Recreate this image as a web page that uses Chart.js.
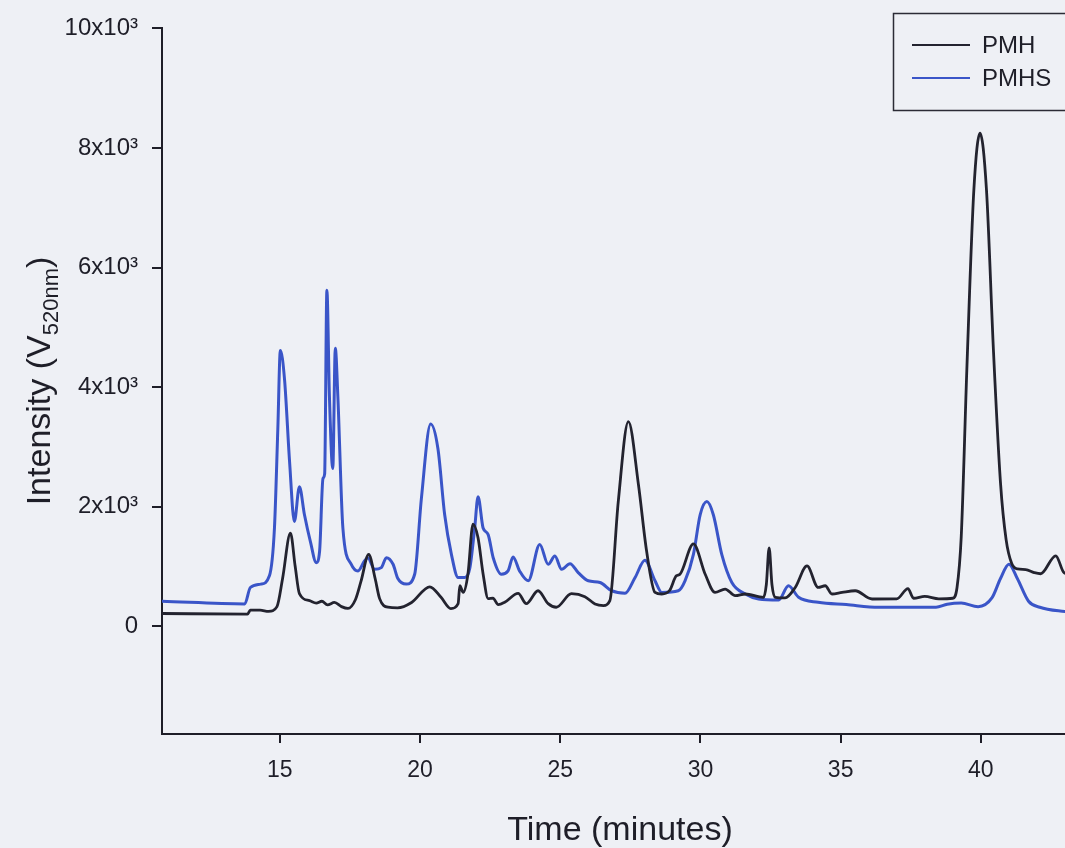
<!DOCTYPE html>
<html>
<head>
<meta charset="utf-8">
<title>PMH / PMHS chromatogram</title>
<script src="https://cdn.jsdelivr.net/npm/chart.js@4.4.1/dist/chart.umd.min.js"></script>
<style>
  html, body { margin: 0; padding: 0; background: #eef0f5; }
  canvas { display: block; }
</style>
</head>
<body>
<canvas id="chroma" width="1065" height="848"></canvas>
<script>
// ===== Data =====
const seriesNames = ["PMH", "PMHS"];
const seriesColors = ["#23232f", "#3a55c8"];

const timeTicks = [15, 20, 25, 30, 35, 40];
const intensityTicks = [0, 2000, 4000, 6000, 8000, 10000];

const pmhTime = [
  10.8, 13.85, 13.95, 14.3, 14.6, 14.9, 15.1, 15.38, 15.55, 15.7,
  16.06, 16.3, 16.5, 16.7, 16.95, 17.2, 17.43, 17.7, 17.9, 18.17,
  18.4, 18.56, 18.86, 19.2, 19.7, 20.35, 20.75, 21.1, 21.36, 21.42,
  21.54, 21.71, 21.89, 22.07, 22.25, 22.43, 22.6, 22.79, 23.02, 23.5,
  23.79, 24.21, 24.57, 24.86, 25.4, 25.88, 26.24, 26.54, 26.77, 27.07,
  27.43, 27.79, 28.08, 28.38, 28.62, 28.9, 29.14, 29.27, 29.75, 30.17,
  30.52, 30.88, 31.24, 31.6, 32.25, 32.35, 32.45, 32.55, 32.67, 33.02,
  33.38, 33.8, 34.2, 34.45, 34.69, 35.05, 35.52, 36.12, 37.0, 37.4,
  37.6, 38.0, 38.5, 39.0, 39.15, 39.3, 39.5, 39.75, 39.97, 40.2,
  40.45, 40.7, 40.9, 41.1, 41.3, 41.6, 41.9, 42.13, 42.67, 42.96, 43.1
];
const pmhSignal = [
  215, 205, 270, 270, 250, 330, 800, 1560, 1000, 546,
  430, 390, 420, 360, 400, 330, 300, 450, 760, 1204,
  800, 464, 320, 310, 400, 662, 486, 298, 380, 680,
  568, 877, 1711, 1480, 877, 463, 470, 364, 403, 552,
  380, 596, 380, 320, 546, 497, 375, 348, 430, 2087,
  3423, 2368, 1259, 568, 541, 600, 845, 872, 1380, 872,
  568, 624, 513, 541, 486, 700, 1313, 700, 486, 475,
  651, 1010, 651, 679, 541, 568, 596, 458, 460, 630,
  470, 500, 460, 470, 650, 1500, 4300, 7300, 8250, 7300,
  4600, 2400, 1450, 1050, 960, 950, 900, 880, 1180, 900, 880
];

const pmhsTime = [
  10.8, 13.75, 13.95, 14.32, 14.63, 14.81, 14.93, 15.02, 15.17, 15.35,
  15.52, 15.7, 15.88, 16.1, 16.3, 16.42, 16.54, 16.6, 16.68, 16.77,
  16.89, 16.98, 17.07, 17.25, 17.55, 17.79, 18.02, 18.14, 18.38, 18.62,
  18.8, 19.04, 19.21, 19.51, 19.81, 20.05, 20.38, 20.64, 20.88, 21.12,
  21.36, 21.6, 21.78, 21.95, 22.07, 22.25, 22.43, 22.61, 22.9, 23.14,
  23.32, 23.55, 23.86, 24.27, 24.57, 24.81, 25.05, 25.35, 25.64, 26.0,
  26.42, 26.83, 27.31, 27.67, 28.02, 28.38, 28.62, 29.21, 29.45, 29.75,
  29.99, 30.23, 30.46, 30.76, 31.12, 31.6, 32.07, 32.79, 33.14, 33.5,
  34.2, 35.2, 36.36, 38.4, 38.8, 39.3, 39.9, 40.4, 40.7, 41.0,
  41.3, 41.7, 42.1, 43.1
];
const pmhsSignal = [
  420, 375, 650, 706, 845, 1645, 3300, 4615, 4128, 2749,
  1755, 2335, 1866, 1400, 1065, 1258, 2472, 2550, 5619, 3853,
  2638, 4653, 3853, 1645, 1038, 927, 1093, 1148, 955, 982,
  1148, 1038, 800, 707, 872, 2141, 3383, 2969, 1866, 1204,
  817, 817, 982, 1645, 2169, 1645, 1535, 1148, 872, 927,
  1159, 927, 762, 1369, 1038, 1176, 955, 1048, 900, 762,
  734, 596, 552, 817, 1104, 762, 568, 596, 762, 1204,
  1866, 2087, 1866, 1204, 734, 541, 458, 442, 679, 486,
  403, 364, 320, 320, 370, 390, 330, 480, 800, 1040,
  800, 420, 320, 240
];

const toPoints = (xs, ys) => xs.map((x, i) => ({ x: x, y: ys[i] }));

const FONT = '"Liberation Sans", Arial, sans-serif';
const INK = "#1e1e28";

// ===== Axis titles and legend box =====
const overlay = {
  id: "overlay",
  afterDraw(chart) {
    const ctx = chart.ctx;

    ctx.save();
    ctx.fillStyle = INK;

    // x title
    ctx.font = "34px " + FONT;
    ctx.textAlign = "center";
    ctx.textBaseline = "alphabetic";
    ctx.fillText("Time (minutes)", 620, 840);

    // y title with subscript
    ctx.save();
    ctx.translate(50, 381);
    ctx.rotate(-Math.PI / 2);
    ctx.textAlign = "left";
    const big = "34px " + FONT;
    const small = "22px " + FONT;
    ctx.font = big;
    const w1 = ctx.measureText("Intensity (V").width;
    const w3 = ctx.measureText(")").width;
    ctx.font = small;
    const w2 = ctx.measureText("520nm").width;
    let x0 = -(w1 + w2 + w3) / 2;
    ctx.font = big;
    ctx.fillText("Intensity (V", x0, 0);
    x0 += w1;
    ctx.font = small;
    ctx.fillText("520nm", x0, 8);
    x0 += w2;
    ctx.font = big;
    ctx.fillText(")", x0, 0);
    ctx.restore();

    // legend
    ctx.strokeStyle = "#2b2b35";
    ctx.lineWidth = 1.5;
    ctx.strokeRect(893.5, 13.5, 220, 97);
    ctx.font = "24px " + FONT;
    ctx.textAlign = "left";
    ctx.textBaseline = "middle";
    chart.data.datasets.forEach((ds, i) => {
      const y = 45 + i * 33;
      ctx.strokeStyle = ds.borderColor;
      ctx.lineWidth = 2.2;
      ctx.beginPath();
      ctx.moveTo(912, y);
      ctx.lineTo(970, y);
      ctx.stroke();
      ctx.fillText(ds.label, 982, y + 1);
    });

    ctx.restore();
  }
};

// ===== Chart =====
const ctx = document.getElementById("chroma").getContext("2d");

new Chart(ctx, {
  type: "line",
  data: {
    datasets: [
      {
        label: seriesNames[0],
        data: toPoints(pmhTime, pmhSignal),
        borderColor: seriesColors[0],
        borderWidth: 2.8,
        pointRadius: 0,
        cubicInterpolationMode: "monotone"
      },
      {
        label: seriesNames[1],
        data: toPoints(pmhsTime, pmhsSignal),
        borderColor: seriesColors[1],
        borderWidth: 3,
        pointRadius: 0,
        cubicInterpolationMode: "monotone"
      }
    ]
  },
  options: {
    responsive: false,
    animation: false,
    devicePixelRatio: 1,
    layout: { padding: { top: 22, right: 0, left: 0, bottom: 0 } },
    plugins: {
      legend: { display: false },
      tooltip: { enabled: false }
    },
    scales: {
      x: {
        type: "linear",
        min: 10.8,
        max: 43.0,
        afterFit: (s) => { s.height = 114; },
        afterBuildTicks: (s) => { s.ticks = timeTicks.map(v => ({ value: v })); },
        grid: { drawOnChartArea: false, tickLength: 9, color: INK, lineWidth: 2 },
        border: { display: true, color: INK, width: 2 },
        ticks: {
          color: INK,
          padding: 14,
          maxRotation: 0,
          font: { family: FONT, size: 23 }
        }
      },
      y: {
        min: -1800,
        max: 10000,
        afterFit: (s) => { s.width = 162; },
        afterBuildTicks: (s) => { s.ticks = intensityTicks.map(v => ({ value: v })); },
        grid: { drawOnChartArea: false, tickLength: 10, color: INK, lineWidth: 2 },
        border: { display: true, color: INK, width: 2 },
        ticks: {
          color: INK,
          padding: 14,
          font: { family: FONT, size: 24 },
          callback: (v) => (v === 0 ? "0" : (v / 1000) + "x10\u00B3")
        }
      }
    }
  },
  plugins: [overlay]
});
</script>
</body>
</html>
